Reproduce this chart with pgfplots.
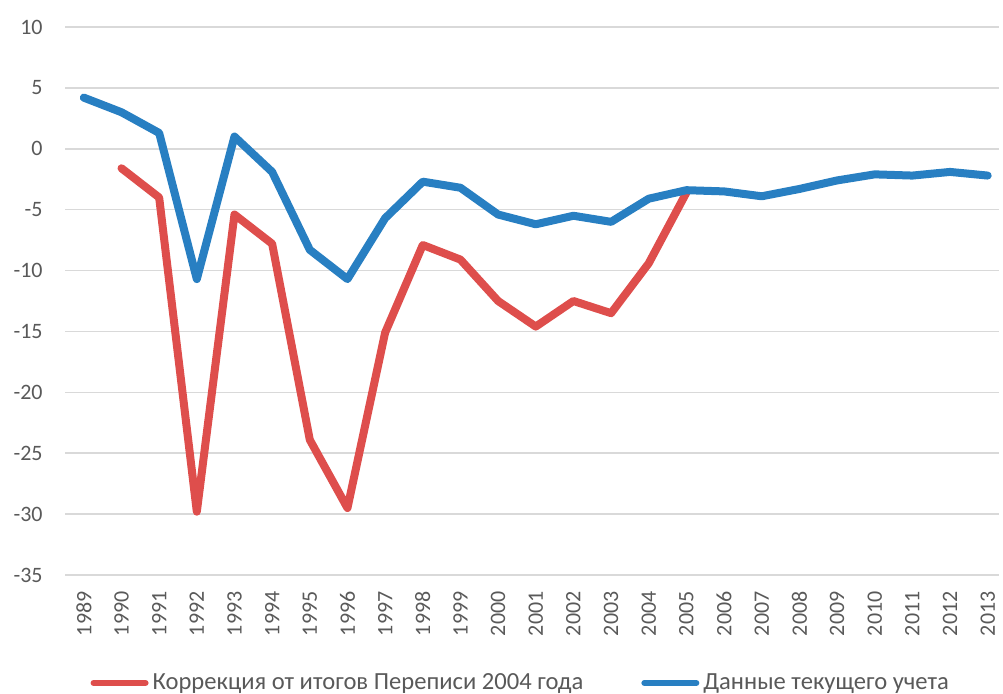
\documentclass[border=0pt]{standalone}
\usepackage{fontspec}
\setmainfont{Carlito}
\usepackage{pgfplots}
\pgfplotsset{compat=1.18}
\definecolor{cred}{RGB}{222,78,76}
\definecolor{cblue}{RGB}{40,127,194}
\definecolor{cgrid}{RGB}{217,217,217}
\definecolor{ctext}{RGB}{89,89,89}
\begin{document}
\begin{tikzpicture}
\begin{axis}[
  scale only axis,
  width=467pt, height=274pt,
  xmin=-0.5, xmax=24.3,
  ymin=-35, ymax=10,
  ytick={-35,-30,...,10},
  xtick={0,...,24},
  xticklabels={1989,1990,1991,1992,1993,1994,1995,1996,1997,1998,1999,2000,2001,2002,2003,2004,2005,2006,2007,2008,2009,2010,2011,2012,2013},
  axis line style={draw=none},
  major tick length=0pt,
  ymajorgrids,
  grid style={cgrid, line width=0.8pt},
  tick label style={font=\fontsize{11}{13}\selectfont, text=ctext},
  /pgf/number format/assume math mode=true,
  yticklabel style={anchor=east, inner sep=0pt, xshift=-11pt},
  xticklabel style={rotate=90, anchor=east, inner sep=0pt, xshift=-8pt},
  legend columns=2,
  legend style={at={(0.489,-0.197)}, anchor=center, draw=none, fill=none,
    font=\fontsize{12.3}{14}\selectfont, text=ctext,
    /tikz/every even column/.append style={column sep=27pt},
    inner sep=0pt},
  legend image code/.code={\draw[line width=3pt] (0pt,0pt) -- (26pt,0pt);},
  every axis plot/.append style={line width=4pt, line join=round, line cap=round},
]
\addplot[cred] coordinates {
(1,-1.6) (2,-4.0) (3,-29.8) (4,-5.4) (5,-7.8) (6,-23.9) (7,-29.5) (8,-15.1)
(9,-7.9) (10,-9.1) (11,-12.5) (12,-14.6) (13,-12.5) (14,-13.5) (15,-9.4) (16,-3.6)
};
\addlegendentry{Коррекция от итогов Переписи 2004 года}
\addplot[cblue] coordinates {
(0,4.2) (1,3.0) (2,1.3) (3,-10.7) (4,1.0) (5,-1.9) (6,-8.3) (7,-10.7) (8,-5.7)
(9,-2.7) (10,-3.2) (11,-5.4) (12,-6.2) (13,-5.5) (14,-6.0) (15,-4.1) (16,-3.4)
(17,-3.5) (18,-3.9) (19,-3.3) (20,-2.6) (21,-2.1) (22,-2.2) (23,-1.9) (24,-2.2)
};
\addlegendentry{Данные текущего учета}
\end{axis}
\pgfresetboundingbox
\path (-32.5pt,-59pt) rectangle (469pt,287.5pt);
\end{tikzpicture}
\end{document}
